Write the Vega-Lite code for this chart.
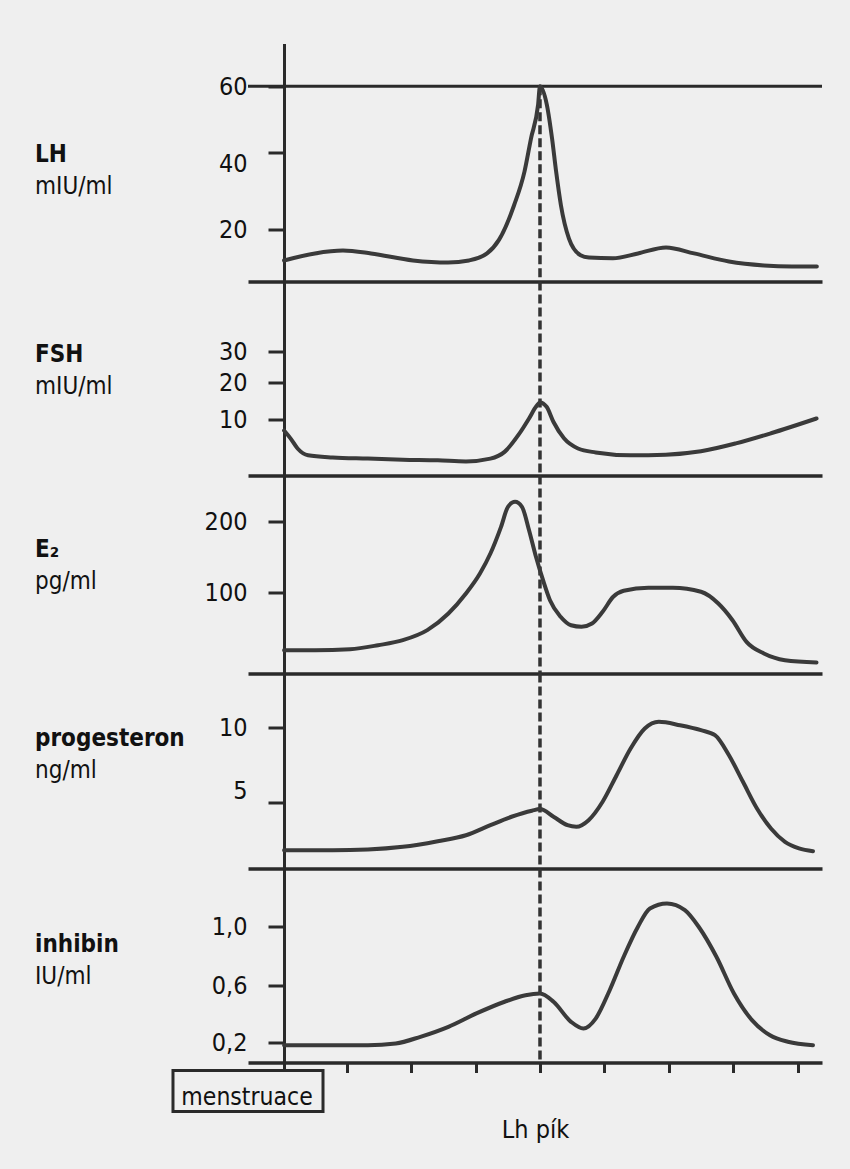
{
  "$schema": "https://vega.github.io/schema/vega-lite/v6.json",
  "background": "#efefef",
  "padding": {"left": 35, "top": 43.5, "right": 40, "bottom": 40},
  "autosize": {"type": "pad"},
  "spacing": 0,
  "bounds": "flush",
  "config": {
    "view": {"stroke": null},
    "font": "DejaVu Sans Condensed, sans-serif",
    "axis": {"grid": false, "labelFontSize": 25, "labelColor": "#111", "domainColor": "#2a2a2a", "tickColor": "#2a2a2a", "titleFontWeight": "normal", "titleColor": "#111"},
    "title": {"fontSize": 24, "fontWeight": "bold", "color": "#111", "subtitleFontSize": 24, "subtitleColor": "#111", "subtitlePadding": 8, "anchor": "start", "frame": "group", "orient": "top", "offset": 0}
  },
  "datasets": {
    "curves": [
      {"h": "LH", "day": -15.9, "value": 8.1},
      {"h": "LH", "day": -13.98, "value": 10.8},
      {"h": "LH", "day": -12.24, "value": 11.9},
      {"h": "LH", "day": -10.5, "value": 10.8},
      {"h": "LH", "day": -7.89, "value": 8.1},
      {"h": "LH", "day": -5.71, "value": 7.3},
      {"h": "LH", "day": -4.41, "value": 8.1},
      {"h": "LH", "day": -3.29, "value": 10.8},
      {"h": "LH", "day": -2.55, "value": 16.0},
      {"h": "LH", "day": -1.61, "value": 26.3},
      {"h": "LH", "day": -0.96, "value": 35.1},
      {"h": "LH", "day": -0.56, "value": 44.2},
      {"h": "LH", "day": -0.12, "value": 54.3},
      {"h": "LH", "day": 0, "value": 60},
      {"h": "LH", "day": 0.43, "value": 54.3},
      {"h": "LH", "day": 0.75, "value": 44.2},
      {"h": "LH", "day": 1.0, "value": 35.1},
      {"h": "LH", "day": 1.3, "value": 26.3},
      {"h": "LH", "day": 1.8, "value": 16.5},
      {"h": "LH", "day": 2.52, "value": 10.1},
      {"h": "LH", "day": 3.04, "value": 9.2},
      {"h": "LH", "day": 4.53, "value": 8.9},
      {"h": "LH", "day": 6.09, "value": 10.8},
      {"h": "LH", "day": 7.83, "value": 13.1},
      {"h": "LH", "day": 9.57, "value": 10.8},
      {"h": "LH", "day": 11.74, "value": 7.7},
      {"h": "LH", "day": 13.91, "value": 6.2},
      {"h": "LH", "day": 15.65, "value": 5.8},
      {"h": "LH", "day": 17.2, "value": 5.8},

      {"h": "FSH", "day": -15.9, "value": 8.0},
      {"h": "FSH", "day": -15.5, "value": 6.6},
      {"h": "FSH", "day": -15.06, "value": 4.8},
      {"h": "FSH", "day": -14.41, "value": 3.6},
      {"h": "FSH", "day": -12.88, "value": 3.2},
      {"h": "FSH", "day": -10.7, "value": 3.0},
      {"h": "FSH", "day": -8.52, "value": 2.8},
      {"h": "FSH", "day": -6.35, "value": 2.7},
      {"h": "FSH", "day": -4.6, "value": 2.5},
      {"h": "FSH", "day": -3.08, "value": 3.0},
      {"h": "FSH", "day": -2.2, "value": 4.2},
      {"h": "FSH", "day": -1.34, "value": 7.2},
      {"h": "FSH", "day": -0.68, "value": 10.2},
      {"h": "FSH", "day": -0.25, "value": 13.4},
      {"h": "FSH", "day": 0, "value": 14.6},
      {"h": "FSH", "day": 0.41, "value": 13.4},
      {"h": "FSH", "day": 0.84, "value": 9.5},
      {"h": "FSH", "day": 1.49, "value": 6.6},
      {"h": "FSH", "day": 2.36, "value": 4.8},
      {"h": "FSH", "day": 3.46, "value": 4.1},
      {"h": "FSH", "day": 5.63, "value": 3.6},
      {"h": "FSH", "day": 7.81, "value": 3.7},
      {"h": "FSH", "day": 10.0, "value": 4.3},
      {"h": "FSH", "day": 12.17, "value": 5.7},
      {"h": "FSH", "day": 14.35, "value": 7.5},
      {"h": "FSH", "day": 17.18, "value": 10.2},

      {"h": "E2", "day": -15.9, "value": 28.8},
      {"h": "E2", "day": -13.98, "value": 28.8},
      {"h": "E2", "day": -11.8, "value": 30.0},
      {"h": "E2", "day": -10.06, "value": 34.9},
      {"h": "E2", "day": -8.52, "value": 41.1},
      {"h": "E2", "day": -7.0, "value": 53.5},
      {"h": "E2", "day": -5.69, "value": 74.1},
      {"h": "E2", "day": -4.6, "value": 98.8},
      {"h": "E2", "day": -3.73, "value": 126.8},
      {"h": "E2", "day": -3.08, "value": 154.9},
      {"h": "E2", "day": -2.42, "value": 192.5},
      {"h": "E2", "day": -1.99, "value": 220.7},
      {"h": "E2", "day": -1.55, "value": 227.7},
      {"h": "E2", "day": -1.12, "value": 220.7},
      {"h": "E2", "day": -0.68, "value": 187.7},
      {"h": "E2", "day": -0.25, "value": 150.3},
      {"h": "E2", "day": 0.19, "value": 117.3},
      {"h": "E2", "day": 0.62, "value": 90.5},
      {"h": "E2", "day": 1.28, "value": 70.0},
      {"h": "E2", "day": 1.93, "value": 59.6},
      {"h": "E2", "day": 2.58, "value": 57.7},
      {"h": "E2", "day": 3.23, "value": 61.7},
      {"h": "E2", "day": 3.89, "value": 76.2},
      {"h": "E2", "day": 4.55, "value": 94.7},
      {"h": "E2", "day": 5.2, "value": 102.4},
      {"h": "E2", "day": 6.73, "value": 106.6},
      {"h": "E2", "day": 8.25, "value": 106.6},
      {"h": "E2", "day": 10.0, "value": 101.0},
      {"h": "E2", "day": 11.08, "value": 86.4},
      {"h": "E2", "day": 11.96, "value": 65.8},
      {"h": "E2", "day": 12.83, "value": 39.1},
      {"h": "E2", "day": 13.91, "value": 24.7},
      {"h": "E2", "day": 15.22, "value": 16.4},
      {"h": "E2", "day": 17.18, "value": 13.6},

      {"h": "P", "day": -15.9, "value": 1.39},
      {"h": "P", "day": -12.88, "value": 1.39},
      {"h": "P", "day": -10.7, "value": 1.44},
      {"h": "P", "day": -8.52, "value": 1.64},
      {"h": "P", "day": -6.35, "value": 2.07},
      {"h": "P", "day": -4.6, "value": 2.52},
      {"h": "P", "day": -3.08, "value": 3.28},
      {"h": "P", "day": -1.77, "value": 3.92},
      {"h": "P", "day": -0.5, "value": 4.38},
      {"h": "P", "day": 0, "value": 4.5},
      {"h": "P", "day": 0.84, "value": 3.92},
      {"h": "P", "day": 1.71, "value": 3.28},
      {"h": "P", "day": 2.26, "value": 3.16},
      {"h": "P", "day": 3.02, "value": 3.66},
      {"h": "P", "day": 3.89, "value": 5.05},
      {"h": "P", "day": 4.76, "value": 6.82},
      {"h": "P", "day": 5.63, "value": 8.6},
      {"h": "P", "day": 6.51, "value": 9.93},
      {"h": "P", "day": 7.38, "value": 10.38},
      {"h": "P", "day": 8.7, "value": 10.15},
      {"h": "P", "day": 10.0, "value": 9.82},
      {"h": "P", "day": 10.87, "value": 9.49},
      {"h": "P", "day": 11.74, "value": 8.15},
      {"h": "P", "day": 12.61, "value": 6.38},
      {"h": "P", "day": 13.48, "value": 4.55},
      {"h": "P", "day": 14.35, "value": 3.03},
      {"h": "P", "day": 15.22, "value": 2.02},
      {"h": "P", "day": 16.09, "value": 1.52},
      {"h": "P", "day": 16.96, "value": 1.31},

      {"h": "I", "day": -15.9, "value": 0.173},
      {"h": "I", "day": -12.88, "value": 0.173},
      {"h": "I", "day": -10.7, "value": 0.173},
      {"h": "I", "day": -8.96, "value": 0.19},
      {"h": "I", "day": -7.43, "value": 0.24},
      {"h": "I", "day": -5.69, "value": 0.31},
      {"h": "I", "day": -3.95, "value": 0.404},
      {"h": "I", "day": -2.2, "value": 0.486},
      {"h": "I", "day": -0.9, "value": 0.532},
      {"h": "I", "day": 0, "value": 0.544},
      {"h": "I", "day": 0.84, "value": 0.486},
      {"h": "I", "day": 1.93, "value": 0.345},
      {"h": "I", "day": 2.7, "value": 0.298},
      {"h": "I", "day": 3.46, "value": 0.368},
      {"h": "I", "day": 4.33, "value": 0.567},
      {"h": "I", "day": 5.2, "value": 0.795},
      {"h": "I", "day": 6.07, "value": 0.995},
      {"h": "I", "day": 6.83, "value": 1.122},
      {"h": "I", "day": 7.89, "value": 1.156},
      {"h": "I", "day": 9.0, "value": 1.111},
      {"h": "I", "day": 9.88, "value": 0.995},
      {"h": "I", "day": 10.96, "value": 0.795},
      {"h": "I", "day": 12.05, "value": 0.544},
      {"h": "I", "day": 13.17, "value": 0.357},
      {"h": "I", "day": 14.29, "value": 0.251},
      {"h": "I", "day": 15.4, "value": 0.205},
      {"h": "I", "day": 16.96, "value": 0.173}
    ]
  },
  "vconcat": [
    {
      "width": 574, "height": 238,
      "title": {"text": "LH", "subtitle": "mIU/ml", "dx": -213, "dy": 159.5},
      "layer": [
        {"data": {"values": [{}]}, "mark": {"type": "rule", "color": "#2a2a2a", "strokeWidth": 3}, "encoding": {"y": {"datum": 60}}},
        {"data": {"values": [{}]}, "mark": {"type": "rule", "color": "#333", "strokeWidth": 3.5, "strokeDash": [9, 4]}, "encoding": {"x": {"datum": 0}, "y": {"datum": 60}, "y2": {"datum": 0}}},
        {
          "data": {"name": "curves"},
          "transform": [{"filter": "datum.h === 'LH'"}],
          "mark": {"type": "line", "interpolate": "monotone", "color": "#3a3a3a", "strokeWidth": 4, "strokeCap": "round"},
          "encoding": {
            "x": {"field": "day", "type": "quantitative", "scale": {"domain": [-18.14, 17.52], "nice": false, "zero": false}, "axis": {"domainWidth": 3.5, "ticks": false, "labels": false, "title": null}},
            "y": {"field": "value", "type": "quantitative", "scale": {"domain": [0, 20, 40, 60, 72.9], "range": [238, 186, 109, 42.7, 0], "nice": false, "zero": false}, "axis": {"offset": -36, "values": [20, 40, 60], "domainWidth": 3, "tickSize": 16, "tickWidth": 3, "labelPadding": 21, "title": null, "labelOffset": {"condition": {"test": "datum.value === 40", "value": 11}, "value": 0}}}
          }
        }
      ]
    },
    {
      "width": 574, "height": 194,
      "title": {"text": "FSH", "subtitle": "mIU/ml", "dx": -213, "dy": 123.5},
      "layer": [
        {"data": {"values": [{}]}, "mark": {"type": "rule", "color": "#333", "strokeWidth": 3.5, "strokeDash": [9, 4]}, "encoding": {"x": {"datum": 0}}},
        {
          "data": {"name": "curves"},
          "transform": [{"filter": "datum.h === 'FSH'"}],
          "mark": {"type": "line", "interpolate": "monotone", "color": "#3a3a3a", "strokeWidth": 4, "strokeCap": "round"},
          "encoding": {
            "x": {"field": "day", "type": "quantitative", "scale": {"domain": [-18.14, 17.52], "nice": false, "zero": false}, "axis": {"domainWidth": 3.5, "ticks": false, "labels": false, "title": null}},
            "y": {"field": "value", "type": "quantitative", "scale": {"domain": [0, 10, 20, 30, 52.4], "range": [194, 137.7, 101.3, 70, 0], "nice": false, "zero": false}, "axis": {"offset": -36, "values": [10, 20, 30], "domainWidth": 3, "tickSize": 16, "tickWidth": 3, "labelPadding": 21, "title": null}}
          }
        }
      ]
    },
    {
      "width": 574, "height": 198,
      "title": {"text": "E₂", "subtitle": "pg/ml", "dx": -213, "dy": 124.5},
      "layer": [
        {"data": {"values": [{}]}, "mark": {"type": "rule", "color": "#333", "strokeWidth": 3.5, "strokeDash": [9, 4]}, "encoding": {"x": {"datum": 0}}},
        {
          "data": {"name": "curves"},
          "transform": [{"filter": "datum.h === 'E2'"}],
          "mark": {"type": "line", "interpolate": "monotone", "color": "#3a3a3a", "strokeWidth": 4, "strokeCap": "round"},
          "encoding": {
            "x": {"field": "day", "type": "quantitative", "scale": {"domain": [-18.14, 17.52], "nice": false, "zero": false}, "axis": {"domainWidth": 3.5, "ticks": false, "labels": false, "title": null}},
            "y": {"field": "value", "type": "quantitative", "scale": {"domain": [0, 100, 200, 264.8], "range": [198, 117, 46, 0], "nice": false, "zero": false}, "axis": {"offset": -36, "values": [100, 200], "domainWidth": 3, "tickSize": 16, "tickWidth": 3, "labelPadding": 21, "title": null}}
          }
        }
      ]
    },
    {
      "width": 574, "height": 195,
      "title": {"text": "progesteron", "subtitle": "ng/ml", "dx": -213, "dy": 115.5},
      "layer": [
        {"data": {"values": [{}]}, "mark": {"type": "rule", "color": "#333", "strokeWidth": 3.5, "strokeDash": [9, 4]}, "encoding": {"x": {"datum": 0}}},
        {
          "data": {"name": "curves"},
          "transform": [{"filter": "datum.h === 'P'"}],
          "mark": {"type": "line", "interpolate": "monotone", "color": "#3a3a3a", "strokeWidth": 4, "strokeCap": "round"},
          "encoding": {
            "x": {"field": "day", "type": "quantitative", "scale": {"domain": [-18.14, 17.52], "nice": false, "zero": false}, "axis": {"domainWidth": 3.5, "ticks": false, "labels": false, "title": null}},
            "y": {"field": "value", "type": "quantitative", "scale": {"domain": [0, 5, 10, 13.6], "range": [195, 129, 54, 0], "nice": false, "zero": false}, "axis": {"offset": -36, "values": [5, 10], "domainWidth": 3, "tickSize": 16, "tickWidth": 3, "labelPadding": 21, "title": null, "labelOffset": {"condition": {"test": "datum.value === 5", "value": -12}, "value": 0}}}
          }
        }
      ]
    },
    {
      "width": 574, "height": 194,
      "title": {"text": "inhibin", "subtitle": "IU/ml", "dx": -213, "dy": 126.5},
      "layer": [
        {"data": {"values": [{}]}, "mark": {"type": "rule", "color": "#333", "strokeWidth": 3.5, "strokeDash": [9, 4]}, "encoding": {"x": {"datum": 0}}},
        {
          "data": {"name": "curves"},
          "transform": [{"filter": "datum.h === 'I'"}],
          "mark": {"type": "line", "interpolate": "monotone", "color": "#3a3a3a", "strokeWidth": 4, "strokeCap": "round"},
          "encoding": {
            "x": {"field": "day", "type": "quantitative", "scale": {"domain": [-18.14, 17.52], "nice": false, "zero": false}, "axis": {"values": [-15.9, -12, -8, -4, 0, 4, 8, 12, 16], "domainWidth": 3.5, "ticks": true, "tickSize": 10, "tickWidth": 3, "labels": false, "title": "Lh pík", "titleFontSize": 25, "titlePadding": 43}},
            "y": {"field": "value", "type": "quantitative", "scale": {"domain": [0, 0.2, 0.6, 1.0, 1.393], "range": [194, 174, 117, 58, 0], "nice": false, "zero": false}, "axis": {"offset": -36, "values": [0.2, 0.6, 1.0], "domainWidth": 3, "tickSize": 16, "tickWidth": 3, "labelPadding": 21, "title": null, "labelExpr": "replace(format(datum.value, '.1f'), '.', ',')"}}
          }
        },
        {"data": {"values": [{"label": "menstruace"}]}, "mark": {"type": "rect", "fill": "#efefef", "stroke": "#2a2a2a", "strokeWidth": 3}, "encoding": {"x": {"datum": -22.8}, "x2": {"datum": -13.48}, "y": {"datum": -0.08}, "y2": {"datum": -0.49}}},
        {"data": {"values": [{"label": "menstruace"}]}, "mark": {"type": "text", "fontSize": 24.5, "align": "center", "baseline": "alphabetic", "color": "#111"}, "encoding": {"x": {"datum": -18.2}, "y": {"datum": -0.42}, "text": {"field": "label"}}}
      ]
    }
  ]
}
